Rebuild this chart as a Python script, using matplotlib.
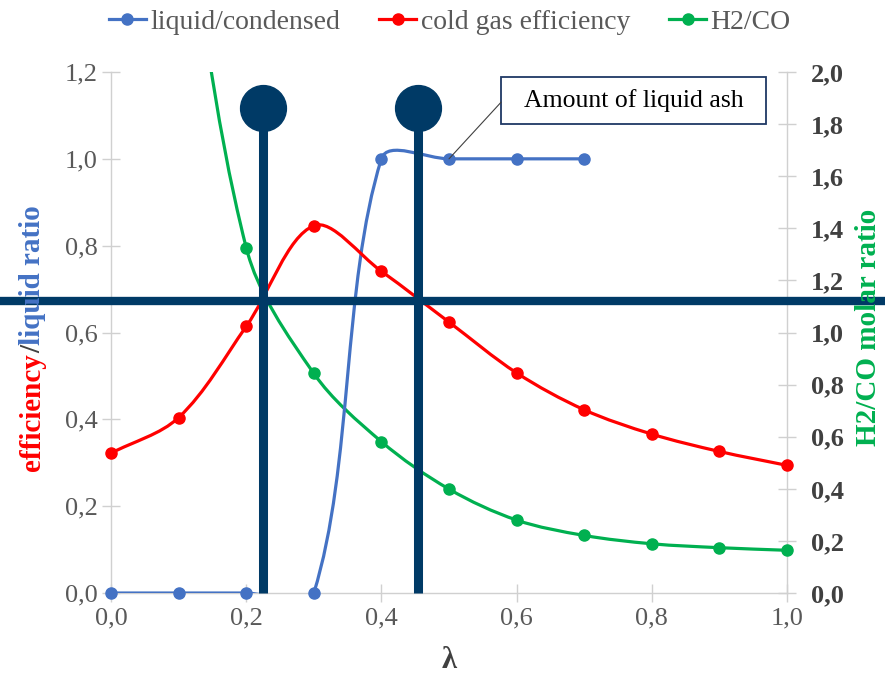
import numpy as np
import matplotlib
matplotlib.use('Agg')
import matplotlib.pyplot as plt
from matplotlib.path import Path
from matplotlib.patches import PathPatch, Rectangle
from matplotlib.lines import Line2D
from matplotlib.ticker import FuncFormatter, MultipleLocator
from matplotlib import transforms

plt.rcParams['font.family'] = ['Liberation Serif', 'DejaVu Serif']

# data
lam = [0.0, 0.1, 0.2, 0.3, 0.4, 0.5, 0.6, 0.7, 0.8, 0.9, 1.0]
liquid_x = [0.0, 0.1, 0.2, 0.3, 0.4, 0.5, 0.6, 0.7]
liquid = [0.0, 0.0, 0.0, 0.0, 1.0, 1.0, 1.0, 1.0]
cold_gas_eff = [0.322, 0.404, 0.614, 0.846, 0.741, 0.624, 0.507, 0.422, 0.366, 0.326, 0.294]
h2_co = [5.0, 2.9, 1.326, 0.843, 0.581, 0.399, 0.280, 0.221, 0.189, 0.174, 0.164]

BLUE = '#4472C4'
RED = '#FF0000'
GREEN = '#00B050'
NAVY = '#003A66'
GRAY = '#595959'
SPINE = '#D0D0D0'


def excel_smooth(a, xs, ys):
    # bezier path through the points like excel's "smoothed line",
    # control arms scaled by chord length in screen space
    tr = a.transData
    p = tr.transform(np.column_stack([xs, ys]))
    n = len(p)
    d = np.hypot(*np.diff(p, axis=0).T)
    verts = [p[0]]
    codes = [Path.MOVETO]
    for i in range(n - 1):
        prev = p[i - 1] if i > 0 else p[i]
        nxt = p[i + 2] if i + 2 < n else p[i + 1]
        dp = d[i - 1] if i > 0 else 0.0
        dn = d[i + 1] if i + 2 < n else 0.0
        c1 = p[i] + (p[i + 1] - prev) / 3 * d[i] / (dp + d[i])
        c2 = p[i + 1] - (nxt - p[i]) / 3 * d[i] / (d[i] + dn)
        verts += [c1, c2, p[i + 1]]
        codes += [Path.CURVE4] * 3
    verts = tr.inverted().transform(np.array(verts))
    return Path(verts, codes)


def comma(v, _):
    return f"{v:.1f}".replace('.', ',')


fig = plt.figure(figsize=(8.85, 6.87), dpi=100)
ax = fig.add_axes([0.1254, 0.1368, 0.7639, 0.7584])
ax2 = ax.twinx()
ax.set_zorder(ax2.get_zorder() + 1)
ax.patch.set_visible(False)

ax.set_xlim(0, 1.0)
ax.set_ylim(0, 1.2)
ax2.set_xlim(0, 1.0)
ax2.set_ylim(0, 2.0)

lw = 2.3
ms = 8
ax.add_patch(PathPatch(excel_smooth(ax, liquid_x, liquid), fill=False, ec=BLUE, lw=lw, zorder=3))
ax.plot(liquid_x, liquid, 'o', color=BLUE, ms=ms, zorder=4, clip_on=False)
ax.add_patch(PathPatch(excel_smooth(ax, lam, cold_gas_eff), fill=False, ec=RED, lw=lw, zorder=3))
ax.plot(lam, cold_gas_eff, 'o', color=RED, ms=ms, zorder=4, clip_on=False)
ax2.add_patch(PathPatch(excel_smooth(ax2, lam, h2_co), fill=False, ec=GREEN, lw=lw, zorder=3))
ax2.plot(lam[2:], h2_co[2:], 'o', color=GREEN, ms=ms, zorder=4, clip_on=False)

ax.set_xlim(0, 1.0)
ax.set_ylim(0, 1.2)
ax2.set_ylim(0, 2.0)
ax.xaxis.set_major_locator(MultipleLocator(0.2))
ax.yaxis.set_major_locator(MultipleLocator(0.2))
ax2.yaxis.set_major_locator(MultipleLocator(0.2))
ax.xaxis.set_major_formatter(FuncFormatter(comma))
ax.yaxis.set_major_formatter(FuncFormatter(comma))
ax2.yaxis.set_major_formatter(FuncFormatter(comma))

for a in (ax, ax2):
    for s in a.spines.values():
        s.set_color(SPINE)
        s.set_linewidth(1.0)
    a.spines['top'].set_visible(False)
ax.spines['right'].set_visible(False)
ax2.spines['left'].set_visible(False)
ax2.spines['bottom'].set_visible(False)

ax.tick_params(axis='both', direction='inout', length=13, width=1.0, color=SPINE,
               labelsize=19, labelcolor=GRAY, pad=3)
ax.tick_params(axis='x', pad=4)
ax2.tick_params(axis='y', direction='inout', length=13, width=1.0, color=SPINE,
                labelsize=19, labelcolor='#404040', pad=11)
for t in ax2.get_yticklabels():
    t.set_fontweight('bold')

ax.set_xlabel('λ', fontsize=22, fontweight='bold', color='#404040', labelpad=12)

# navy overlay marks
bar_x = [0.2256, 0.4546]
for bx in bar_x:
    ax.plot([bx, bx], [0, 1.1165], color=NAVY, lw=6.5, zorder=10, clip_on=False,
            solid_capstyle='butt')
    ax.plot([bx], [1.1165], 'o', color=NAVY, ms=33, zorder=11, clip_on=False)
hline = Line2D([0, 1], [0.6736, 0.6736], color=NAVY, lw=6,
               transform=transforms.blended_transform_factory(fig.transFigure, ax.transData),
               zorder=10)
ax.add_line(hline)
hline.set_clip_on(False)

# annotation box
ax.add_patch(Rectangle((0.577, 0.900), 0.392, 0.090, transform=ax.transAxes, fill=True,
                       fc='white', ec='#1F3864', lw=1.3, zorder=12, clip_on=False))
ax.text(0.773, 0.945, 'Amount of liquid ash', transform=ax.transAxes, ha='center',
        va='center', fontsize=18.5, color='black', zorder=13)
ax.annotate('', xy=(0.5, 1.0), xycoords='data', xytext=(0.577, 0.942),
            textcoords='axes fraction',
            arrowprops=dict(arrowstyle='-', color='#404040', lw=0.8,
                            shrinkA=0, shrinkB=0), zorder=12)

# legend
handles = [Line2D([], [], color=c, lw=lw, marker='o', ms=ms) for c in (BLUE, RED, GREEN)]
leg = fig.legend(handles, ['liquid/condensed', 'cold gas efficiency', 'H2/CO'],
                 loc='center', bbox_to_anchor=(0.508, 0.968), ncol=3, frameon=False,
                 fontsize=20, handlelength=1.35, handletextpad=0.15, columnspacing=1.4)
for t in leg.get_texts():
    t.set_color(GRAY)

# multicolour left axis label
fig.canvas.draw()
r = fig.canvas.get_renderer()
parts = [('efficiency', RED), ('/', '#404040'), ('liquid ratio', BLUE)]
texts = []
for s, c in parts:
    texts.append(fig.text(0.037, 0, s, rotation=90, ha='center', va='bottom', fontsize=21,
                          fontweight='bold', color=c))
heights = [t.get_window_extent(r).height / fig.bbox.height for t in texts]
y = 1 - 338 / 687 - sum(heights) / 2
for t, h in zip(texts, heights):
    t.set_y(y)
    y += h

fig.text(0.981, 1 - 327 / 687, 'H2/CO molar ratio', rotation=90, ha='center', va='center',
         fontsize=21, fontweight='bold', color=GREEN)

plt.savefig('out.png', dpi=100)
